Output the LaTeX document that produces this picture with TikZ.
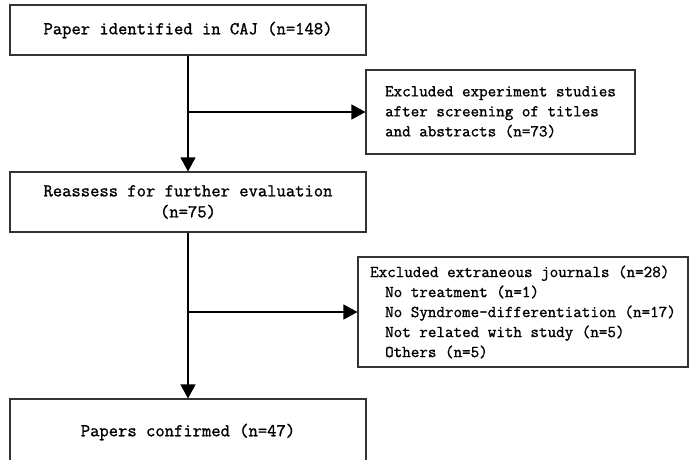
\documentclass[tikz,border=0pt]{standalone}
\usepackage{fontspec}
\newfontfamily\flowfont{Latin Modern Mono}[AutoFakeBold=1.2]
\usepackage{tikz}
\usetikzlibrary{arrows.meta}

\begin{document}
\begin{tikzpicture}[x=1pt, y=-1pt,
    mainbox/.style={draw=black!80, line width=1.1pt, inner sep=0pt,
      minimum width=356pt, align=center,
      font=\flowfont\bfseries\fontsize{18.1}{21}\selectfont},
    sidebox/.style={draw=black!80, line width=1.1pt, inner sep=0pt,
      align=left, font=\flowfont\bfseries\fontsize{16.6}{20}\selectfont},
    flowarrow/.style={line width=1.1pt, -{Triangle[length=14pt, width=15pt]}}]
        \useasboundingbox (0,0) rectangle (689,459);

        \node[mainbox, minimum height=50pt] (paper) at (188, 30) {Paper identified in CAJ (n=148)};
        \node[sidebox, minimum width=269pt, minimum height=84pt] (studies) at (500.5, 112)
          {Excluded experiment studies\\after screening of titles\\and abstracts (n=73)};
        \node[mainbox, minimum height=60pt] (reassess) at (188, 202) {Reassess for further evaluation\\(n=75)};
        \node[sidebox, minimum width=330pt, minimum height=110pt] (journals) at (523, 312)
          {Excluded extraneous journals (n=28)\\
           \hspace*{15pt}No treatment (n=1)\\
           \hspace*{15pt}No Syndrome-differentiation (n=17)\\
           \hspace*{15pt}Not related with study (n=5)\\
           \hspace*{15pt}Others (n=5)};
        \node[mainbox, minimum height=66pt] (confirmed) at (188, 432) {Papers confirmed (n=47)};

        % main flow
        \draw[flowarrow] (paper.south) -- (reassess.north);
        \draw[flowarrow] (reassess.south) -- (confirmed.north);

        % exclusions
        \draw[flowarrow] (paper.south |- studies.west) -- (studies.west);
        \draw[flowarrow] (reassess.south |- journals.west) -- (journals.west);
      \end{tikzpicture}
\end{document}
